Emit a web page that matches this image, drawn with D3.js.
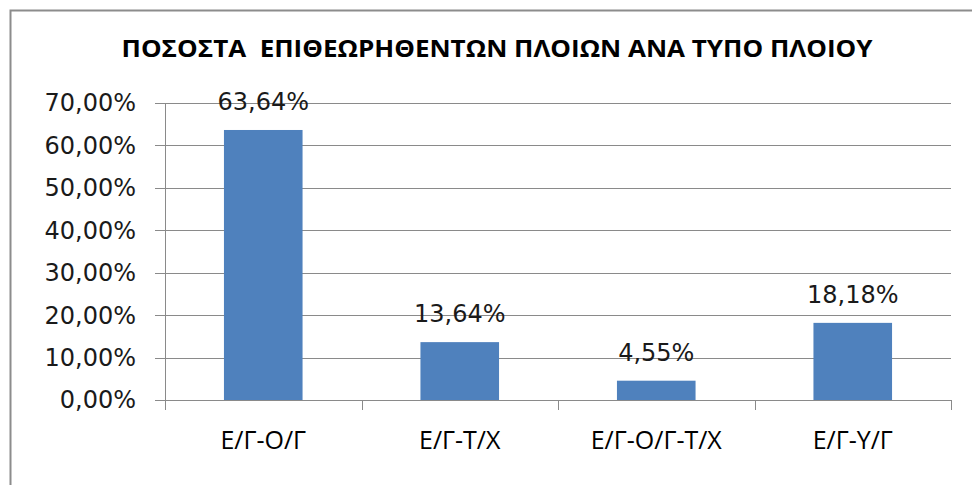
<!DOCTYPE html>
<html>
<head>
<meta charset="utf-8">
<script src="https://cdnjs.cloudflare.com/ajax/libs/d3/7.8.5/d3.min.js"></script>
<style>
  body { margin: 0; background: #fff; }
  svg { display: block; }
</style>
</head>
<body>
<svg class="chart"></svg>
<script>
// chart data
var title = "ΠΟΣΟΣΤΑ  ΕΠΙΘΕΩΡΗΘΕΝΤΩΝ ΠΛΟΙΩΝ ΑΝΑ ΤΥΠΟ ΠΛΟΙΟΥ";
var categories = ["Ε/Γ-Ο/Γ", "Ε/Γ-Τ/Χ", "Ε/Γ-Ο/Γ-Τ/Χ", "Ε/Γ-Υ/Γ"];
var values = [0.6364, 0.1364, 0.0455, 0.1818];
var yTicks = [0, 0.1, 0.2, 0.3, 0.4, 0.5, 0.6, 0.7];

const width = 972, height = 485;
const margin = {top: 103, left: 165, right: 21, bottom: 85};

var svg = d3.select(".chart")
    .attr("width", width)
    .attr("height", height);

// outer frame of the chart area (cropped on right / bottom)
svg.append("rect")
    .attr("x", 10.5).attr("y", 10.5)
    .attr("width", 980).attr("height", 500)
    .attr("fill", "none")
    .attr("stroke", "#8c8c8c")
    .attr("stroke-width", 2);

svg.append("text")
    .attr("x", 497)
    .attr("y", 57)
    .attr("text-anchor", "middle")
    .attr("font-family", "'Liberation Sans Narrow', 'Open Sans', sans-serif")
    .attr("font-weight", "bold")
    .attr("font-size", 24)
    .attr("textLength", 751)
    .attr("lengthAdjust", "spacingAndGlyphs")
    .style("white-space", "pre")
    .attr("fill", "#000")
    .text(title);

var x = d3.scaleBand()
    .domain(categories)
    .range([margin.left, width - margin.right])
    .paddingInner(0.6)
    .paddingOuter(0.3);

var y = d3.scaleLinear()
    .domain([0, 0.7])
    .range([height - margin.bottom, margin.top]);

var fmt = d => d3.format(".2f")(d * 100).replace(".", ",") + "%";

// gridlines
svg.append("g")
    .selectAll("line")
    .data(yTicks).enter()
    .append("line")
    .attr("x1", margin.left - 10)
    .attr("x2", width - margin.right)
    .attr("y1", d => Math.round(y(d)) + 0.5)
    .attr("y2", d => Math.round(y(d)) + 0.5)
    .attr("stroke", "#8a8a8a")
    .attr("stroke-width", 1);

// y axis line
svg.append("line")
    .attr("x1", margin.left + 0.5).attr("x2", margin.left + 0.5)
    .attr("y1", margin.top).attr("y2", height - margin.bottom + 10)
    .attr("stroke", "#8a8a8a");

// category tick marks
var step = (width - margin.right - margin.left) / categories.length;
svg.append("g")
    .selectAll("line")
    .data(d3.range(categories.length + 1)).enter()
    .append("line")
    .attr("x1", i => Math.round(margin.left + i * step) + 0.5)
    .attr("x2", i => Math.round(margin.left + i * step) + 0.5)
    .attr("y1", height - margin.bottom)
    .attr("y2", height - margin.bottom + 10)
    .attr("stroke", "#8a8a8a");

// y tick labels
svg.append("g")
    .selectAll("text")
    .data(yTicks).enter()
    .append("text")
    .attr("x", 136)
    .attr("y", d => y(d))
    .attr("dy", "0.35em")
    .attr("text-anchor", "end")
    .attr("font-family", "'DejaVu Sans', Verdana, sans-serif")
    .attr("font-size", 24)
    .attr("fill", "#1a1a1a")
    .text(d => fmt(d));

// bars
svg.append("g")
    .selectAll("rect")
    .data(values).enter()
    .append("rect")
    .attr("x", (d, i) => x(categories[i]))
    .attr("y", d => y(d))
    .attr("width", x.bandwidth())
    .attr("height", d => y(0) - y(d))
    .attr("fill", "#4f81bd");

// value labels
svg.append("g")
    .selectAll("text")
    .data(values).enter()
    .append("text")
    .attr("x", (d, i) => x(categories[i]) + x.bandwidth() / 2)
    .attr("y", d => y(d) - 20)
    .attr("text-anchor", "middle")
    .attr("font-family", "'DejaVu Sans', Verdana, sans-serif")
    .attr("font-size", 24)
    .attr("fill", "#1a1a1a")
    .text(d => fmt(d));

// category labels
svg.append("g")
    .selectAll("text")
    .data(categories).enter()
    .append("text")
    .attr("x", d => x(d) + x.bandwidth() / 2)
    .attr("y", 449)
    .attr("text-anchor", "middle")
    .attr("font-family", "'Liberation Sans Narrow', 'Open Sans', sans-serif")
    .attr("font-size", 25)
    .attr("fill", "#000")
    .text(d => d);
</script>
</body>
</html>
